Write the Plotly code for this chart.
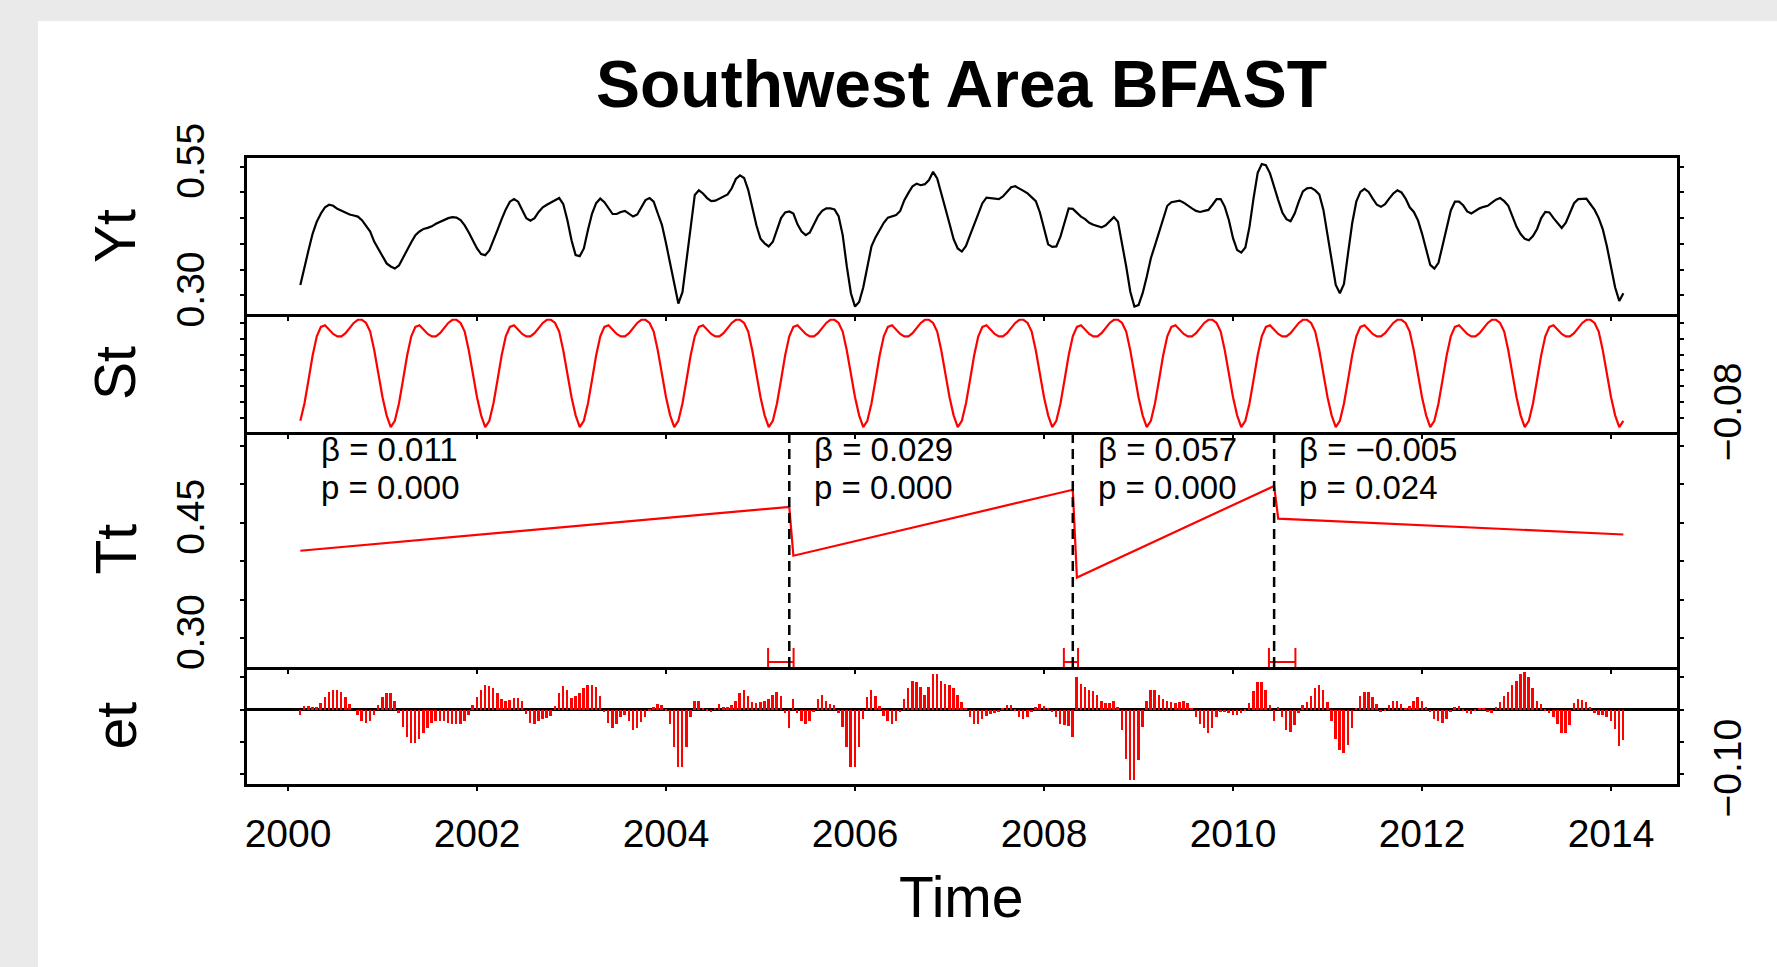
import plotly.graph_objects as go

# ---------------- data ----------------
ts_start_year = 2000
ts_start_period = 4
ts_frequency = 23

Yt = [
    0.320, 0.356, 0.388, 0.420, 0.443, 0.459, 0.471, 0.476, 0.474, 0.468, 0.464, 0.460, 0.457, 0.455, 0.453, 0.446, 0.435, 0.424, 0.404, 0.389, 0.375, 0.362, 0.356,
    0.352, 0.358, 0.372, 0.388, 0.403, 0.417, 0.424, 0.429, 0.431, 0.434, 0.439, 0.443, 0.446, 0.450, 0.452, 0.451, 0.446, 0.436, 0.422, 0.406, 0.391, 0.380, 0.378,
    0.387, 0.406, 0.427, 0.448, 0.467, 0.482, 0.487, 0.482, 0.466, 0.450, 0.445, 0.450, 0.462, 0.471, 0.476, 0.480, 0.485, 0.489, 0.477, 0.446, 0.407, 0.378, 0.376,
    0.391, 0.427, 0.459, 0.479, 0.488, 0.481, 0.469, 0.458, 0.458, 0.462, 0.464, 0.459, 0.453, 0.457, 0.472, 0.485, 0.489, 0.482, 0.459, 0.437, 0.401, 0.362, 0.317,
    0.284, 0.306, 0.369, 0.443, 0.495, 0.504, 0.498, 0.489, 0.483, 0.484, 0.488, 0.493, 0.496, 0.508, 0.526, 0.533, 0.528, 0.505, 0.471, 0.436, 0.410, 0.401, 0.395,
    0.404, 0.427, 0.450, 0.461, 0.463, 0.459, 0.438, 0.424, 0.417, 0.422, 0.437, 0.454, 0.464, 0.469, 0.469, 0.467, 0.454, 0.417, 0.356, 0.304, 0.278, 0.287, 0.315,
    0.356, 0.395, 0.413, 0.428, 0.441, 0.451, 0.453, 0.456, 0.464, 0.485, 0.499, 0.512, 0.517, 0.514, 0.516, 0.524, 0.540, 0.527, 0.498, 0.471, 0.439, 0.409, 0.391,
    0.385, 0.396, 0.417, 0.439, 0.459, 0.479, 0.490, 0.489, 0.488, 0.487, 0.492, 0.501, 0.510, 0.512, 0.508, 0.503, 0.498, 0.491, 0.483, 0.461, 0.427, 0.399, 0.394,
    0.395, 0.414, 0.444, 0.469, 0.468, 0.461, 0.453, 0.448, 0.441, 0.437, 0.434, 0.432, 0.436, 0.445, 0.452, 0.443, 0.401, 0.356, 0.307, 0.278, 0.281, 0.304, 0.336,
    0.372, 0.397, 0.422, 0.450, 0.474, 0.481, 0.483, 0.484, 0.480, 0.474, 0.469, 0.464, 0.462, 0.464, 0.466, 0.476, 0.487, 0.487, 0.472, 0.446, 0.411, 0.388, 0.383,
    0.393, 0.433, 0.489, 0.538, 0.555, 0.553, 0.537, 0.509, 0.485, 0.461, 0.448, 0.444, 0.459, 0.482, 0.502, 0.508, 0.509, 0.504, 0.496, 0.466, 0.417, 0.365, 0.320,
    0.304, 0.322, 0.382, 0.440, 0.482, 0.501, 0.507, 0.501, 0.488, 0.476, 0.472, 0.477, 0.488, 0.498, 0.504, 0.500, 0.488, 0.471, 0.462, 0.446, 0.420, 0.388, 0.359,
    0.352, 0.363, 0.397, 0.430, 0.465, 0.482, 0.482, 0.475, 0.463, 0.459, 0.464, 0.469, 0.472, 0.474, 0.480, 0.486, 0.489, 0.483, 0.474, 0.453, 0.433, 0.419, 0.410,
    0.407, 0.415, 0.429, 0.450, 0.462, 0.461, 0.450, 0.440, 0.431, 0.441, 0.462, 0.479, 0.487, 0.488, 0.488, 0.477, 0.466, 0.450, 0.428, 0.395, 0.356, 0.315, 0.289,
    0.304,
]

St = [
    -0.084, -0.062, -0.032, -0.001, 0.023, 0.035, 0.037, 0.031, 0.026, 0.023, 0.023, 0.027, 0.034, 0.040, 0.044, 0.044, 0.040, 0.029, 0.005, -0.025, -0.054, -0.077, -0.092,
    -0.084, -0.062, -0.032, -0.001, 0.023, 0.035, 0.037, 0.031, 0.026, 0.023, 0.023, 0.027, 0.034, 0.040, 0.044, 0.044, 0.040, 0.029, 0.005, -0.025, -0.054, -0.077, -0.092,
    -0.084, -0.062, -0.032, -0.001, 0.023, 0.035, 0.037, 0.031, 0.026, 0.023, 0.023, 0.027, 0.034, 0.040, 0.044, 0.044, 0.040, 0.029, 0.005, -0.025, -0.054, -0.077, -0.092,
    -0.084, -0.062, -0.032, -0.001, 0.023, 0.035, 0.037, 0.031, 0.026, 0.023, 0.023, 0.027, 0.034, 0.040, 0.044, 0.044, 0.040, 0.029, 0.005, -0.025, -0.054, -0.077, -0.092,
    -0.084, -0.062, -0.032, -0.001, 0.023, 0.035, 0.037, 0.031, 0.026, 0.023, 0.023, 0.027, 0.034, 0.040, 0.044, 0.044, 0.040, 0.029, 0.005, -0.025, -0.054, -0.077, -0.092,
    -0.084, -0.062, -0.032, -0.001, 0.023, 0.035, 0.037, 0.031, 0.026, 0.023, 0.023, 0.027, 0.034, 0.040, 0.044, 0.044, 0.040, 0.029, 0.005, -0.025, -0.054, -0.077, -0.092,
    -0.084, -0.062, -0.032, -0.001, 0.023, 0.035, 0.037, 0.031, 0.026, 0.023, 0.023, 0.027, 0.034, 0.040, 0.044, 0.044, 0.040, 0.029, 0.005, -0.025, -0.054, -0.077, -0.092,
    -0.084, -0.062, -0.032, -0.001, 0.023, 0.035, 0.037, 0.031, 0.026, 0.023, 0.023, 0.027, 0.034, 0.040, 0.044, 0.044, 0.040, 0.029, 0.005, -0.025, -0.054, -0.077, -0.092,
    -0.084, -0.062, -0.032, -0.001, 0.023, 0.035, 0.037, 0.031, 0.026, 0.023, 0.023, 0.027, 0.034, 0.040, 0.044, 0.044, 0.040, 0.029, 0.005, -0.025, -0.054, -0.077, -0.092,
    -0.084, -0.062, -0.032, -0.001, 0.023, 0.035, 0.037, 0.031, 0.026, 0.023, 0.023, 0.027, 0.034, 0.040, 0.044, 0.044, 0.040, 0.029, 0.005, -0.025, -0.054, -0.077, -0.092,
    -0.084, -0.062, -0.032, -0.001, 0.023, 0.035, 0.037, 0.031, 0.026, 0.023, 0.023, 0.027, 0.034, 0.040, 0.044, 0.044, 0.040, 0.029, 0.005, -0.025, -0.054, -0.077, -0.092,
    -0.084, -0.062, -0.032, -0.001, 0.023, 0.035, 0.037, 0.031, 0.026, 0.023, 0.023, 0.027, 0.034, 0.040, 0.044, 0.044, 0.040, 0.029, 0.005, -0.025, -0.054, -0.077, -0.092,
    -0.084, -0.062, -0.032, -0.001, 0.023, 0.035, 0.037, 0.031, 0.026, 0.023, 0.023, 0.027, 0.034, 0.040, 0.044, 0.044, 0.040, 0.029, 0.005, -0.025, -0.054, -0.077, -0.092,
    -0.084, -0.062, -0.032, -0.001, 0.023, 0.035, 0.037, 0.031, 0.026, 0.023, 0.023, 0.027, 0.034, 0.040, 0.044, 0.044, 0.040, 0.029, 0.005, -0.025, -0.054, -0.077, -0.092,
    -0.084,
]

et = [
    -0.009, 0.005, 0.006, 0.004, 0.004, 0.010, 0.019, 0.027, 0.031, 0.031, 0.027, 0.019, 0.009, 0.000, -0.009, -0.017, -0.020, -0.017, -0.009, 0.007, 0.019, 0.026, 0.026,
    0.014, -0.005, -0.027, -0.042, -0.052, -0.052, -0.045, -0.037, -0.029, -0.021, -0.017, -0.018, -0.017, -0.021, -0.023, -0.023, -0.022, -0.018, -0.009, 0.007, 0.020, 0.031, 0.039,
    0.037, 0.034, 0.026, 0.017, 0.014, 0.015, 0.018, 0.018, 0.014, -0.007, -0.020, -0.022, -0.017, -0.014, -0.013, -0.010, 0.006, 0.026, 0.037, 0.030, 0.018, 0.021, 0.026,
    0.033, 0.039, 0.039, 0.035, 0.021, -0.004, -0.021, -0.028, -0.022, -0.011, -0.009, -0.017, -0.032, -0.029, -0.019, -0.012, -0.001, 0.004, 0.008, 0.007, -0.001, -0.022, -0.058,
    -0.089, -0.089, -0.058, -0.012, 0.014, 0.013, 0.003, -0.001, -0.004, 0.002, 0.009, 0.004, 0.004, 0.007, 0.014, 0.026, 0.030, 0.021, 0.012, 0.010, 0.012, 0.014, 0.017,
    0.022, 0.027, 0.021, -0.006, -0.029, 0.017, -0.006, -0.017, -0.022, -0.017, -0.004, 0.016, 0.022, 0.014, 0.008, 0.007, -0.005, -0.027, -0.058, -0.089, -0.089, -0.058, -0.014,
    0.019, 0.030, 0.021, 0.005, -0.010, -0.017, -0.022, -0.018, -0.004, 0.017, 0.033, 0.045, 0.043, 0.035, 0.022, 0.035, 0.056, 0.055, 0.045, 0.040, 0.039, 0.033, 0.022,
    0.012, 0.001, -0.011, -0.022, -0.022, -0.015, -0.010, -0.007, -0.006, -0.004, 0.002, 0.007, 0.007, -0.001, -0.011, -0.015, -0.012, -0.004, 0.004, 0.008, 0.005, 0.002, -0.004,
    -0.011, -0.022, -0.024, -0.026, -0.042, 0.051, 0.040, 0.035, 0.031, 0.029, 0.022, 0.014, 0.010, 0.010, 0.014, 0.004, -0.032, -0.076, -0.109, -0.109, -0.078, -0.027, 0.014,
    0.031, 0.030, 0.022, 0.017, 0.014, 0.012, 0.010, 0.012, 0.014, 0.010, 0.001, -0.012, -0.022, -0.029, -0.037, -0.029, -0.012, -0.004, -0.004, -0.006, -0.009, -0.009, -0.006,
    -0.001, 0.010, 0.029, 0.043, 0.043, 0.030, 0.007, -0.018, 0.004, -0.012, -0.032, -0.035, -0.024, -0.006, 0.007, 0.012, 0.021, 0.033, 0.039, 0.030, 0.012, -0.017, -0.045,
    -0.063, -0.068, -0.055, -0.029, 0.002, 0.021, 0.027, 0.027, 0.019, 0.008, -0.004, -0.001, 0.007, 0.014, 0.014, 0.009, 0.003, 0.005, 0.014, 0.019, 0.013, 0.004, -0.004,
    -0.014, -0.018, -0.021, -0.015, -0.004, 0.004, 0.005, -0.002, -0.006, -0.007, -0.001, 0.003, 0.002, -0.004, -0.005, 0.004, 0.012, 0.021, 0.027, 0.038, 0.045, 0.056, 0.058,
    0.051, 0.033, 0.014, 0.008, -0.001, -0.006, -0.012, -0.022, -0.037, -0.037, -0.024, 0.010, 0.017, 0.015, 0.012, 0.004, -0.006, -0.009, -0.009, -0.012, -0.017, -0.030, -0.057,
    -0.047,
]

# trend segments (index of first / last observation and fitted values there)
seg_first = [0, 120, 189, 238]
seg_last = [119, 188, 237, 322]
trend_first = [0.4134, 0.4069, 0.3786, 0.4552]
trend_last = [0.4703, 0.4926, 0.4976, 0.4345]
slopes = ["0.011", "0.029", "0.057", "\u22120.005"]
pvalues = ["0.000", "0.000", "0.000", "0.024"]

# confidence intervals of the breakpoints (years)
ci_low = [2005.08, 2008.21, 2010.38]
ci_high = [2005.35, 2008.36, 2010.66]

x_ticks = [2000, 2002, 2004, 2006, 2008, 2010, 2012, 2014]

# ---------------- derived ----------------
time = [ts_start_year + (ts_start_period - 1 + k) / ts_frequency for k in range(len(Yt))]
breakpoints = [time[i] for i in seg_last[:-1]]

trend_x, trend_y = [], []
for a, b, ya, yb in zip(seg_first, seg_last, trend_first, trend_last):
    trend_x += [time[a], time[b]]
    trend_y += [ya, yb]

# ---------------- style / layout ----------------
W, H = 1777, 967
ML, MR, MT, MB = 247, 100, 158, 183
PW, PH = W - ML - MR, H - MT - MB

def py(pix):  # pixel row -> paper y
    return (H - MB - pix) / PH

def px(pix):  # pixel column -> paper x
    return (pix - ML) / PW

FONT = "Liberation Sans, Arial, Helvetica, sans-serif"
RED = "#FF0000"
GREY = "#EAEAEA"

dom_Yt = [py(314), 1.0]
dom_St = [py(432), py(314)]
dom_Tt = [py(667), py(432)]
dom_et = [0.0, py(667)]

fig = go.Figure()
fig.add_trace(go.Scatter(x=time, y=Yt, mode="lines", line=dict(color="black", width=2.2),
                         xaxis="x", yaxis="y", showlegend=False, hoverinfo="skip"))
fig.add_trace(go.Scatter(x=time, y=St, mode="lines", line=dict(color=RED, width=2.2),
                         xaxis="x2", yaxis="y2", showlegend=False, hoverinfo="skip"))
fig.add_trace(go.Scatter(x=trend_x, y=trend_y, mode="lines", line=dict(color=RED, width=2.2),
                         xaxis="x3", yaxis="y3", showlegend=False, hoverinfo="skip"))

# breakpoint confidence brackets near the bottom of the trend panel
Tt_range = [0.2623, 0.5677]
tt_per_px = (Tt_range[1] - Tt_range[0]) / (667 - 432)
ci_y = Tt_range[0] + 5 * tt_per_px
cap = 14 * tt_per_px
cx, cy = [], []
for lo, hi in zip(ci_low, ci_high):
    cx += [lo, lo, None, lo, hi, None, hi, hi, None]
    cy += [ci_y + cap, ci_y - cap, None, ci_y, ci_y, None, ci_y + cap, ci_y - cap, None]
fig.add_trace(go.Scatter(x=cx, y=cy, mode="lines", line=dict(color=RED, width=2),
                         connectgaps=False, xaxis="x3", yaxis="y3",
                         showlegend=False, hoverinfo="skip"))

fig.add_trace(go.Bar(x=time, y=et, width=0.021, marker=dict(color=RED, line=dict(width=0)),
                     xaxis="x4", yaxis="y4", showlegend=False, hoverinfo="skip"))

xcommon = dict(range=[1999.566, 2014.698], showline=True, linecolor="black", linewidth=2.5,
               mirror=False, ticks="outside", ticklen=4, tickwidth=1.5, tickcolor="black",
               tickvals=x_ticks, showgrid=False, zeroline=False)
ycommon = dict(showline=True, linecolor="black", linewidth=2.5, mirror="ticks",
               ticks="outside", ticklen=4, tickwidth=1.5, tickcolor="black",
               showgrid=False, zeroline=False, tickangle=-90,
               tickfont=dict(size=39, family=FONT, color="black"))

fig.update_layout(
    width=W, height=H,
    margin=dict(l=ML, r=MR, t=MT, b=MB, autoexpand=False),
    paper_bgcolor=GREY, plot_bgcolor="white",
    font=dict(family=FONT, color="black"),
    showlegend=False,
    bargap=0,
    xaxis=dict(xcommon, anchor="y", mirror=True, showticklabels=False),
    xaxis2=dict(xcommon, anchor="y2", matches="x", showticklabels=False),
    xaxis3=dict(xcommon, anchor="y3", matches="x", showticklabels=False),
    xaxis4=dict(xcommon, anchor="y4", matches="x", showticklabels=True,
                tickfont=dict(size=39, family=FONT, color="black"), ticklabelstandoff=9),
    yaxis=dict(ycommon, domain=dom_Yt, anchor="x", range=[0.2636, 0.5669], side="left",
               ticklabelstandoff=21,
               tickvals=[0.30, 0.35, 0.40, 0.45, 0.50, 0.55],
               ticktext=["0.30", "", "", "", "", "0.55"]),
    yaxis2=dict(ycommon, domain=dom_St, anchor="x2", range=[-0.0981, 0.0513], side="right",
                ticklabelstandoff=10,
                tickvals=[-0.08, -0.06, -0.04, -0.02, 0.0, 0.02, 0.04],
                ticktext=["\u22120.08", "", "", "", "", "", ""]),
    yaxis3=dict(ycommon, domain=dom_Tt, anchor="x3", range=Tt_range, side="left",
                ticklabelstandoff=21,
                tickvals=[0.30, 0.35, 0.40, 0.45, 0.50, 0.55],
                ticktext=["0.30", "", "", "0.45", "", ""]),
    yaxis4=dict(ycommon, domain=dom_et, anchor="x4", range=[-0.1155, 0.0662], side="right",
                ticklabelstandoff=10,
                tickvals=[-0.10, -0.05, 0.0, 0.05],
                ticktext=["\u22120.10", "", "", ""],
                zeroline=True, zerolinecolor="black", zerolinewidth=2.5),
)

shapes = [
    # white page area (the reference has a light grey border at top/left)
    dict(type="rect", xref="paper", yref="paper", x0=px(38), x1=px(W + 5),
         y0=py(H + 5), y1=py(21), fillcolor="white", line=dict(width=0), layer="below"),
]
for bp in breakpoints:
    shapes.append(dict(type="line", xref="x3", yref="y3 domain", x0=bp, x1=bp, y0=0, y1=1,
                       line=dict(color="black", width=2.5, dash="10px,6px")))
fig.update_layout(shapes=shapes)

ann = []
for name, dom in (("Yt", dom_Yt), ("St", dom_St), ("Tt", dom_Tt), ("et", dom_et)):
    ann.append(dict(text=name, xref="paper", yref="paper", x=px(115), y=(dom[0] + dom[1]) / 2,
                    textangle=-90, showarrow=False, xanchor="center", yanchor="middle",
                    font=dict(size=57, family=FONT, color="black")))
ann.append(dict(text="Time", xref="paper", yref="paper", x=px(961), y=py(897),
                showarrow=False, xanchor="center", yanchor="middle",
                font=dict(size=57, family=FONT, color="black")))
ann.append(dict(text="Southwest Area BFAST", xref="paper", yref="paper", x=px(961), y=py(84),
                showarrow=False, xanchor="center", yanchor="middle",
                font=dict(size=66, family=FONT, color="black", weight="bold")))
for a, s, p in zip(seg_first, slopes, pvalues):
    ann.append(dict(text="\u03b2 = " + s, xref="x3", yref="y3 domain", x=time[a] + 0.20,
                    y=1 - (449 - 432) / 235, showarrow=False, xanchor="left", yanchor="middle",
                    font=dict(size=33, family=FONT, color="black")))
    ann.append(dict(text="p = " + p, xref="x3", yref="y3 domain", x=time[a] + 0.20,
                    y=1 - (487 - 432) / 235, showarrow=False, xanchor="left", yanchor="middle",
                    font=dict(size=33, family=FONT, color="black")))
fig.update_layout(annotations=ann)

fig.write_html(
    "out.html",
    config={"displayModeBar": False},
    post_script="document.body.style.margin='0px';"
                "document.body.style.backgroundColor='" + GREY + "';"
                "document.body.style.overflow='hidden';",
)
